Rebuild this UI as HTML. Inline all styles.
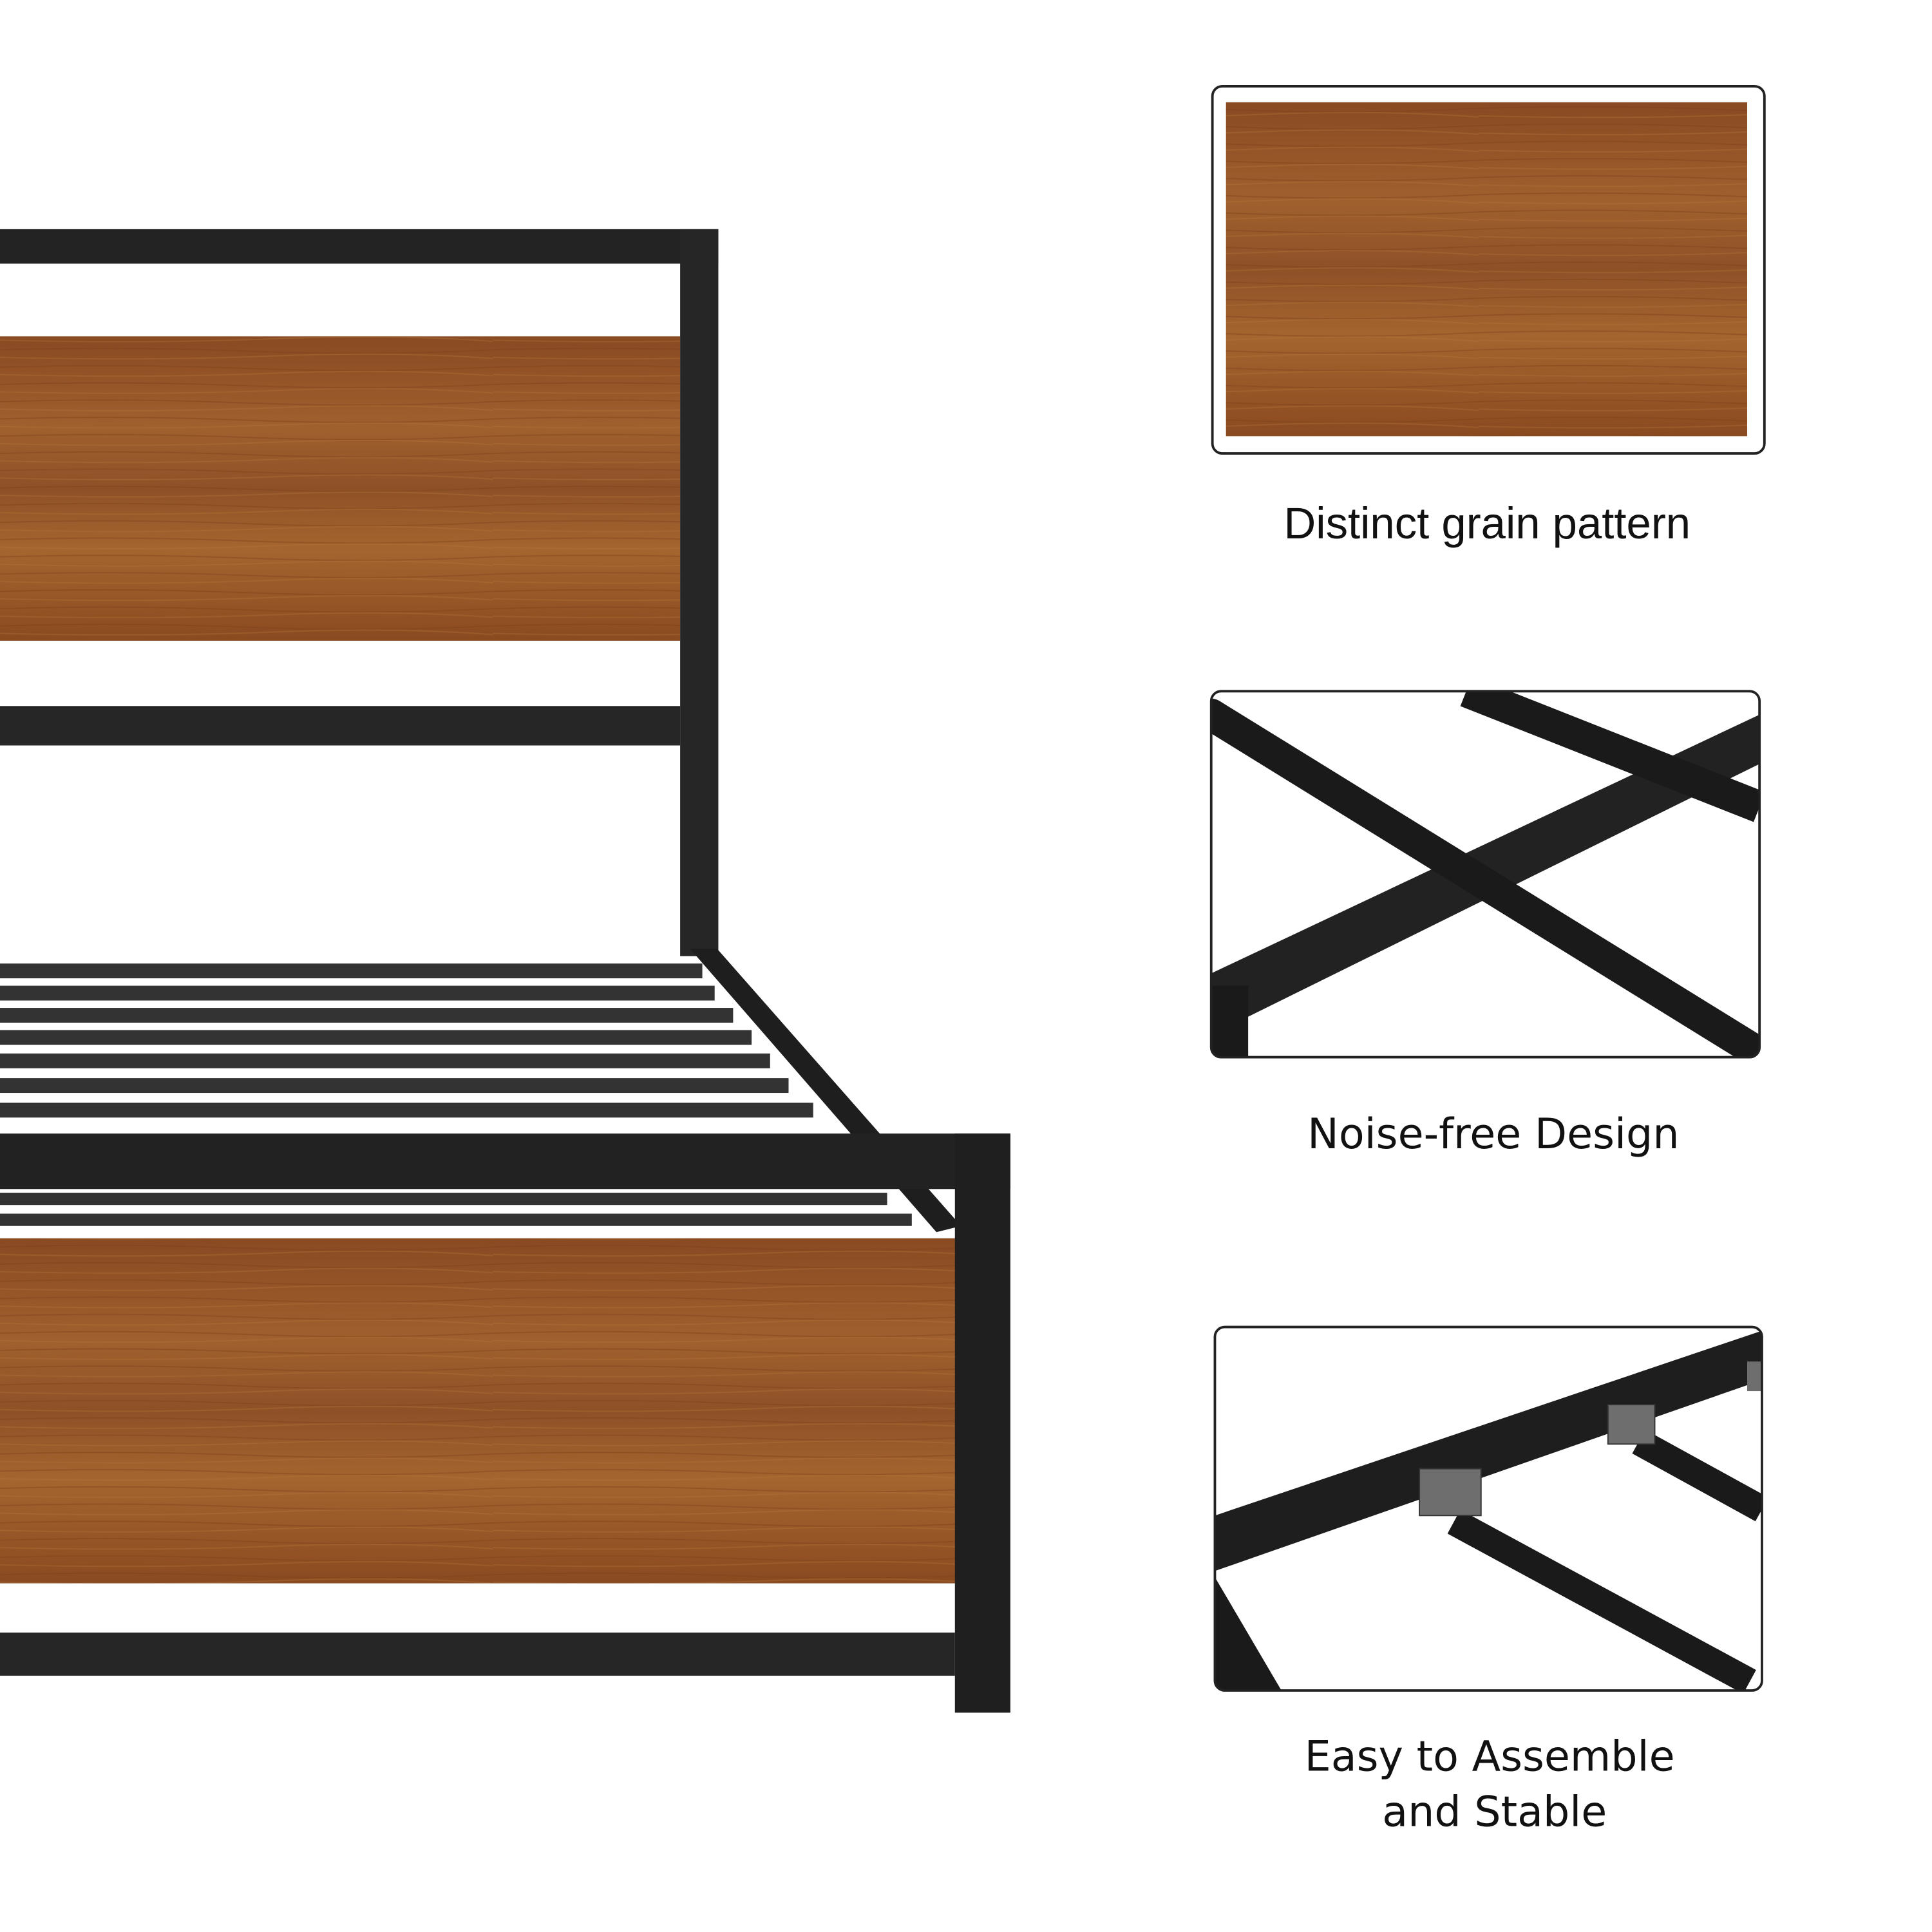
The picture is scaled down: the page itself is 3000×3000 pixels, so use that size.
<!DOCTYPE html>
<html><head><meta charset="utf-8"><style>
html,body{margin:0;padding:0;background:#fff;width:3000px;height:3000px;overflow:hidden}
svg{display:block}
</style></head><body>
<svg width="3000" height="3000" viewBox="0 0 1568 1568" xmlns="http://www.w3.org/2000/svg">
<defs>
<linearGradient id="wood" x1="0" y1="0" x2="0" y2="1">
<stop offset="0" stop-color="#8a4a22"/><stop offset="0.3" stop-color="#a0602e"/>
<stop offset="0.5" stop-color="#8e5127"/><stop offset="0.7" stop-color="#a5652f"/>
<stop offset="1" stop-color="#8a4a20"/></linearGradient>
<pattern id="grain" width="400" height="14" patternUnits="userSpaceOnUse">
<path d="M0 4 Q100 1 200 5 T400 4" stroke="#7a3e18" stroke-width="1" fill="none" opacity="0.4"/>
<path d="M0 10 Q120 13 220 9 T400 11" stroke="#b8763a" stroke-width="1" fill="none" opacity="0.35"/>
</pattern>
</defs>
<rect width="1568" height="1568" fill="#fff"/>
<rect x="0" y="273" width="552" height="247" fill="url(#wood)"/>
<rect x="0" y="273" width="552" height="247" fill="url(#grain)"/>
<rect x="0" y="186" width="583" height="28" fill="#232323"/>
<rect x="552" y="186" width="31" height="590" fill="#262626"/>
<rect x="0" y="573" width="552" height="32" fill="#262626"/>
<g fill="#333">
<rect x="0" y="782" width="570" height="12"/>
<rect x="0" y="800" width="580" height="12"/>
<rect x="0" y="818" width="595" height="12"/>
<rect x="0" y="836" width="610" height="12"/>
<rect x="0" y="855" width="625" height="12"/>
<rect x="0" y="875" width="640" height="12"/>
<rect x="0" y="895" width="660" height="12"/>
<rect x="0" y="968" width="720" height="10"/>
<rect x="0" y="985" width="740" height="10"/>
</g>
<polygon points="560,770 582,770 780,995 760,1000" fill="#1e1e1e"/>
<rect x="0" y="1005" width="780" height="280" fill="url(#wood)"/>
<rect x="0" y="1005" width="780" height="280" fill="url(#grain)"/>
<rect x="0" y="920" width="820" height="45" fill="#222"/>
<rect x="775" y="920" width="45" height="470" fill="#1f1f1f"/>
<rect x="0" y="1325" width="775" height="35" fill="#262626"/>
<rect x="984" y="70" width="448" height="298" rx="8" fill="#fff" stroke="#222" stroke-width="2"/>
<rect x="995" y="83" width="423" height="271" fill="url(#wood)"/>
<rect x="995" y="83" width="423" height="271" fill="url(#grain)"/>
<text x="1207" y="437" font-family="Liberation Sans, sans-serif" font-size="36" text-anchor="middle" fill="#111">Distinct grain pattern</text>
<clipPath id="c2"><rect x="983" y="561" width="445" height="297" rx="8"/></clipPath>
<rect x="983" y="561" width="445" height="297" rx="8" fill="#fff"/>
<g clip-path="url(#c2)">
<polygon points="983,790 1428,580 1428,620 983,840" fill="#222"/>
<line x1="983" y1="580" x2="1420" y2="850" stroke="#1a1a1a" stroke-width="26" stroke-linecap="round"/>
<line x1="1190" y1="561" x2="1428" y2="655" stroke="#1a1a1a" stroke-width="26"/>
<rect x="983" y="800" width="30" height="60" fill="#1a1a1a"/>
</g>
<rect x="983" y="561" width="445" height="297" rx="8" fill="none" stroke="#222" stroke-width="2"/>
<text x="1212" y="932" font-family="DejaVu Sans, sans-serif" font-size="34" text-anchor="middle" fill="#111">Noise-free Design</text>
<clipPath id="c3"><rect x="986" y="1077" width="444" height="295" rx="8"/></clipPath>
<rect x="986" y="1077" width="444" height="295" rx="8" fill="#fff"/>
<g clip-path="url(#c3)">
<polygon points="986,1230 1430,1080 1430,1120 986,1275" fill="#1e1e1e"/>
<line x1="1180" y1="1235" x2="1420" y2="1365" stroke="#1a1a1a" stroke-width="22"/>
<line x1="1330" y1="1170" x2="1430" y2="1225" stroke="#1a1a1a" stroke-width="22"/>
<polygon points="986,1280 1040,1372 986,1372" fill="#1a1a1a"/>
<rect x="1152" y="1192" width="50" height="38" fill="#6e6e6e" stroke="#333"/>
<rect x="1305" y="1140" width="38" height="32" fill="#6e6e6e" stroke="#333"/>
<rect x="1418" y="1105" width="14" height="24" fill="#6e6e6e"/>
</g>
<rect x="986" y="1077" width="444" height="295" rx="8" fill="none" stroke="#222" stroke-width="2"/>
<text x="1209" y="1437" font-family="DejaVu Sans, sans-serif" font-size="34" text-anchor="middle" fill="#111">Easy to Assemble</text>
<text x="1213" y="1482" font-family="DejaVu Sans, sans-serif" font-size="34" text-anchor="middle" fill="#111">and Stable</text>
</svg>
</body></html>
